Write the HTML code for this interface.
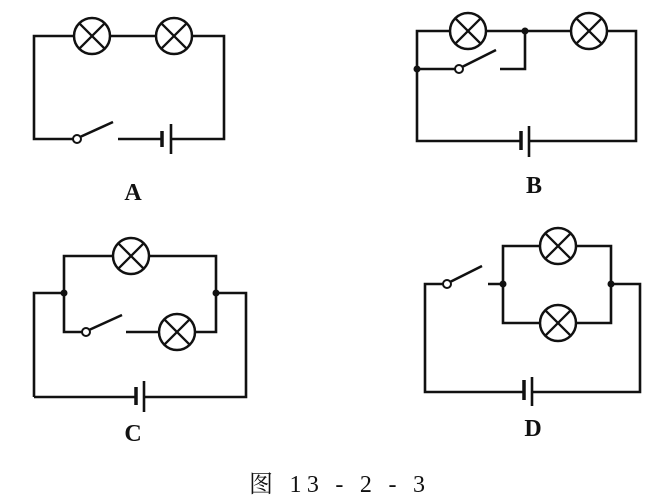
<!DOCTYPE html>
<html><head><meta charset="utf-8"><style>
html,body{margin:0;padding:0;background:#fff;}
svg{display:block}
text{font-family:"Liberation Serif","Noto Serif CJK SC",serif;fill:#111}
</style></head><body>
<svg width="652" height="504" viewBox="0 0 652 504" xmlns="http://www.w3.org/2000/svg">
<defs>
<g id="lamp"><circle r="18" fill="#fff" stroke="#111" stroke-width="2.5"/><path d="M-12.7,-12.7L12.7,12.7M12.7,-12.7L-12.7,12.7" stroke="#111" stroke-width="2.3"/></g>
</defs>
<g fill="none" stroke="#111" stroke-width="2.6">
<path d="M74,139H34V36H224V139H171M162,139H118"/>
<path d="M80,137L113,122"/>
<path d="M162,131V147" stroke-width="3.5"/><path d="M171,124V154"/>
<path d="M417,69V31H636V141H529M521,141H417V69H455"/>
<path d="M500,69H525V31"/>
<path d="M462,67L496,50"/>
<path d="M521,131V150" stroke-width="3.5"/><path d="M529,126V157"/>
<path d="M64,293V256H216V332H177M126,332H160"/>
<path d="M64,293V332H82"/>
<path d="M34,397V293H64M216,293H246V397H144M136,397H34"/>
<path d="M89,330L122,315"/>
<path d="M136,387V405" stroke-width="3.5"/><path d="M144,381V412"/>
<path d="M503,284V246H611V323H503V284H488"/>
<path d="M443,284H425V392H524M532,392H640V284H611"/>
<path d="M450,282L482,266"/>
<path d="M524,380V400" stroke-width="3.5"/><path d="M532,377V406"/>
</g>
<g fill="#fff" stroke="#111" stroke-width="2">
<circle cx="77" cy="139" r="4"/><circle cx="459" cy="69" r="4"/><circle cx="86" cy="332" r="4"/><circle cx="447" cy="284" r="4"/>
</g>
<g fill="#111">
<circle cx="525" cy="31" r="3.5"/><circle cx="417" cy="69" r="3.5"/>
<circle cx="64" cy="293" r="3.5"/><circle cx="216" cy="293" r="3.5"/>
<circle cx="503" cy="284" r="3.5"/><circle cx="611" cy="284" r="3.5"/>
</g>
<use href="#lamp" x="92" y="36"/><use href="#lamp" x="174" y="36"/>
<use href="#lamp" x="468" y="31"/><use href="#lamp" x="589" y="31"/>
<use href="#lamp" x="131" y="256"/><use href="#lamp" x="177" y="332"/>
<use href="#lamp" x="558" y="246"/><use href="#lamp" x="558" y="323"/>
<g font-size="24" font-weight="bold" text-anchor="middle">
<text x="133" y="200">A</text><text x="534" y="193">B</text>
<text x="133" y="441">C</text><text x="533" y="436">D</text>
</g>
<text x="249" y="492" font-size="24" textLength="176" lengthAdjust="spacing" xml:space="preserve">图 13 - 2 - 3</text>
</svg>
</body></html>
